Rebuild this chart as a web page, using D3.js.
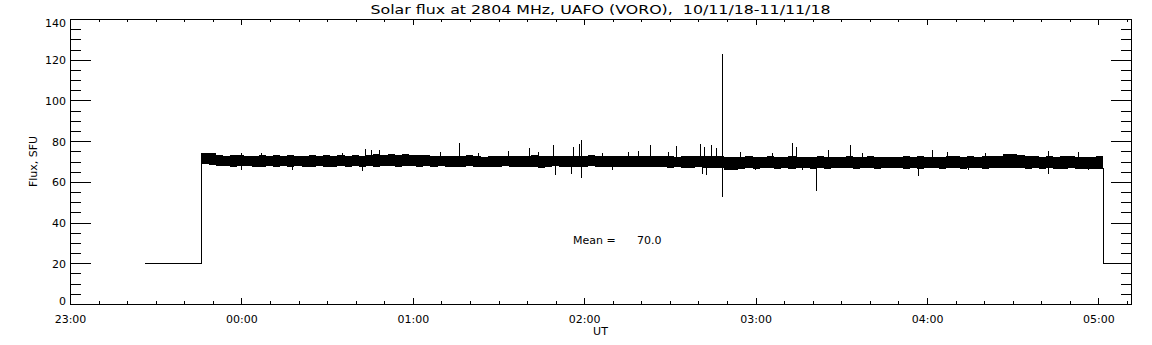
<!DOCTYPE html>
<html>
<head>
<meta charset="utf-8">
<script src="https://cdn.jsdelivr.net/npm/d3@7"></script>
<style>
  body { margin: 0; background: #fff; }
  svg { display: block; }
  text { font-family: "DejaVu Sans", sans-serif; fill: #000; }
</style>
</head>
<body>
<div id="chart"></div>
<script>
let width = 1152,
    height = 345,
    margin = { left: 70, right: 21, top: 19, bottom: 41 }

// times are minutes after 23:00 UT on 10/11/18
let t0 = Date.UTC(2018, 10, 10, 23, 0, 0)
let tEnd = 371.4

let xTickLabels = ["23:00", "00:00", "01:00", "02:00", "03:00", "04:00", "05:00"]
let xTickMinutes = [0, 60, 120, 180, 240, 300, 360]
let xMinorMinutes = [10, 20, 30, 40, 50, 70, 80, 90, 100, 110, 130, 140, 150, 160, 170,
  190, 200, 210, 220, 230, 250, 260, 270, 280, 290, 310, 320, 330, 340, 350, 370]
let yTicks = [0, 20, 40, 60, 80, 100, 120, 140]
let yMinor = [5, 10, 15, 25, 30, 35, 45, 50, 55, 65, 70, 75, 85, 90, 95, 105, 110, 115, 125, 130, 135]

// quiet level before / after the observation
let preT = [26.3, 46.0, 46.0]
let preV = [20, 20, 71]
let postT = [361.7, 361.7, 380]
let postV = [67, 20, 20]

// envelope of the noisy record, sampled evenly between bandStart and bandEnd
let bandStart = 46.0, bandEnd = 361.7
let bandHi = [74.4, 74.0,
  73.2, 72.9, 73.3, 73.0, 72.8,
  72.9, 73.2, 72.7, 73.0, 72.8, 73.3, 72.9, 72.6, 73.1, 72.9, 73.0, 72.7, 73.2, 72.8, 73.0, 72.9,
  73.4, 73.6, 73.2, 73.5, 73.3, 73.7, 73.1, 73.4, 73.2,
  72.7, 72.9, 72.5, 72.8, 72.6, 73.0, 72.7, 72.4, 72.8, 72.6, 72.9, 72.7, 72.5, 72.8, 73.0, 72.6,
  72.7, 72.9, 72.5, 72.8, 72.6, 72.7, 73.1, 72.8, 72.6, 72.9, 72.7, 72.5, 72.8, 72.6, 72.9, 72.7,
  72.6, 72.9, 72.4, 72.7, 72.8, 72.5, 72.9, 72.6, 72.8,
  72.4, 72.2,
  72.3, 72.5, 72.1, 72.4, 72.6, 72.2, 72.3, 72.5, 72.0, 72.4, 72.3, 72.6, 72.2, 72.4, 72.1, 72.5,
  72.3, 72.2, 72.6, 72.4, 72.3,
  72.4, 72.2, 72.5, 72.3, 72.6, 72.1, 72.4, 72.3, 72.7, 72.5, 72.2, 72.6, 72.4, 72.8, 72.5, 72.9,
  73.5, 73.8, 73.4, 72.9, 72.6, 72.4, 72.7, 72.3, 72.5, 72.6, 72.2, 72.4, 72.3, 72.5, 72.4]
let bandLo = [69.0, 68.5,
  67.7, 68.0, 67.5, 67.8, 67.6,
  67.5, 67.2, 67.7, 67.4, 67.6, 67.3, 67.8, 67.5, 67.4, 67.6, 67.2, 67.5, 67.7, 67.3, 67.6, 67.4,
  67.7, 67.5, 67.9, 67.6, 67.4, 67.8, 67.6, 67.5, 67.7,
  67.4, 67.6, 67.2, 67.5, 67.3, 67.6, 67.4, 67.1, 67.5, 67.3, 67.6, 67.4, 67.2, 67.5, 67.3, 67.0,
  67.4, 67.6, 67.3, 67.5, 67.2, 67.4, 67.6, 67.3, 67.1, 67.4, 67.2, 67.5, 67.3, 67.4, 67.2, 67.5,
  67.1, 66.9, 67.2, 67.0, 66.8, 67.1, 66.9, 67.0, 66.7,
  65.8, 66.0,
  66.4, 66.7, 66.5, 66.8, 66.6, 66.4, 66.7, 66.5, 66.9, 66.6, 66.4, 66.7, 66.5, 66.8, 66.6, 66.7,
  66.4, 66.6, 66.8, 66.5, 66.7,
  66.6, 66.8, 66.5, 66.7, 66.4, 66.6, 66.9, 66.5, 66.7, 66.6, 66.4, 66.8, 66.6, 66.5, 66.7, 66.9,
  67.0, 66.8, 66.6, 66.5, 66.7, 66.4, 66.6, 66.5, 66.3, 66.6, 66.4, 66.2, 66.3, 66.1, 66.0]

// bursts and dips sticking out of the band
let spikeT = [59.8, 67.0, 77.6, 95.1, 102.2, 103.4, 105.5, 108.0, 129.5, 136.1, 142.8, 153.3,
  160.8, 163.8, 169.0, 169.6, 175.4, 176.2, 178.1, 178.9, 186.1, 189.6, 195.5, 198.8, 203.1,
  209.3, 212.0, 220.6, 221.4, 222.0, 222.6, 224.4, 226.1, 228.4, 234.5, 239.8, 245.6, 252.6,
  254.1, 256.1, 261.0, 265.3, 273.1, 277.1, 297.0, 301.9, 306.9, 314.4, 320.3, 342.3, 342.5,
  353.0, 356.5]
let spikeTop = [74.2, 74.0, 70, 74.0, 70, 76.0, 75.5, 75.5, 74.5, 79.3, 74.4, 75.2,
  76.4, 74.7, 78.0, 70, 70, 77.2, 78.5, 80.8, 74.2, 70, 74.7, 75.0, 78.0,
  74.5, 77.6, 78.8, 70, 77.2, 70, 78.0, 76.4, 123.0, 74.7, 70, 74.2, 79.0,
  77.2, 70, 70, 75.6, 78.0, 74.4, 70, 75.5, 74.5, 70, 74.3, 70, 75.0,
  74.6, 70]
let spikeBottom = [65.7, 70, 66.0, 70, 65.5, 70, 70, 70, 70, 70, 70, 70,
  70, 70, 70, 63.6, 64.1, 70, 70, 62.1, 70, 65.9, 70, 70, 70,
  70, 70, 70, 64.1, 70, 63.3, 70, 70, 52.7, 70, 66.0, 70, 70,
  70, 65.6, 55.6, 70, 70, 70, 63.0, 70, 70, 65.8, 70, 63.8, 70,
  70, 65.7]

let titleText = "Solar flux at 2804 MHz, UAFO (VORO),  10/11/18-11/11/18"
let meanValue = 70.0

let toDate = m => new Date(t0 + m * 60000)

let svg = d3.select("#chart").append("svg")
  .attr("width", width)
  .attr("height", height)

let x = d3.scaleUtc()
  .domain([toDate(0), toDate(tEnd)])
  .range([margin.left, width - margin.right])

let y = d3.scaleLinear()
  .domain([0, 140])
  .range([height - margin.bottom, margin.top])

// clip so the trailing level stops at the frame
svg.append("clipPath").attr("id", "plot")
  .append("rect")
  .attr("x", x.range()[0]).attr("y", y.range()[1])
  .attr("width", x.range()[1] - x.range()[0])
  .attr("height", y.range()[0] - y.range()[1])

let plot = svg.append("g")
  .attr("clip-path", "url(#plot)")
  .attr("shape-rendering", "crispEdges")

let step = (bandEnd - bandStart) / (bandHi.length - 1)
let band = bandHi.map((h, i) => ({ t: bandStart + i * step, hi: h, lo: bandLo[i] }))

let area = d3.area()
  .curve(d3.curveStepAfter)
  .x(d => x(toDate(d.t)))
  .y0(d => y(d.lo))
  .y1(d => y(d.hi))

plot.append("path")
  .datum(band)
  .attr("d", area)
  .attr("fill", "#000")

let line = d3.line()
  .x(d => x(toDate(d[0])))
  .y(d => y(d[1]))

plot.selectAll(".level")
  .data([d3.zip(preT, preV), d3.zip(postT, postV)])
  .enter().append("path")
  .attr("class", "level")
  .attr("d", line)
  .attr("fill", "none")
  .attr("stroke", "#000")

plot.selectAll(".spike")
  .data(spikeT.map((t, i) => ({ t: t, top: spikeTop[i], bottom: spikeBottom[i] })))
  .enter().append("line")
  .attr("class", "spike")
  .attr("x1", d => Math.round(x(toDate(d.t))) + 0.5)
  .attr("x2", d => Math.round(x(toDate(d.t))) + 0.5)
  .attr("y1", d => y(d.top))
  .attr("y2", d => y(d.bottom))
  .attr("stroke", "#000")

// axes: ticks point into the plot on all four sides
let majorDates = xTickMinutes.map(toDate)
let minorDates = xMinorMinutes.map(toDate)

function addAxis(axis, tx, ty, cls) {
  let g = svg.append("g")
    .attr("class", cls)
    .attr("transform", "translate(" + tx + "," + ty + ")")
    .call(axis)
  g.select(".domain").remove()
  g.selectAll("line").attr("stroke", "#000").attr("shape-rendering", "crispEdges")
  g.selectAll("text").attr("font-size", 11).style("font-family", '"DejaVu Sans", sans-serif')
  return g
}

let bottomY = y.range()[0], topY = y.range()[1]
let leftX = x.range()[0], rightX = x.range()[1]

addAxis(d3.axisBottom(x).tickValues(majorDates)
  .tickFormat((d, i) => xTickLabels[i]).tickSizeInner(-6).tickSizeOuter(0).tickPadding(11),
  0, bottomY, "x-bottom")
addAxis(d3.axisBottom(x).tickValues(minorDates).tickFormat("").tickSizeInner(-3).tickSizeOuter(0),
  0, bottomY, "x-bottom-minor")
addAxis(d3.axisTop(x).tickValues(majorDates).tickFormat("").tickSizeInner(-6).tickSizeOuter(0),
  0, topY, "x-top")
addAxis(d3.axisTop(x).tickValues(minorDates).tickFormat("").tickSizeInner(-3).tickSizeOuter(0),
  0, topY, "x-top-minor")

let yl = addAxis(d3.axisLeft(y).tickValues(yTicks).tickFormat(d3.format("d"))
  .tickSizeInner(-21).tickSizeOuter(0).tickPadding(4), leftX, 0, "y-left")
addAxis(d3.axisLeft(y).tickValues(yMinor).tickFormat("").tickSizeInner(-11).tickSizeOuter(0),
  leftX, 0, "y-left-minor")
addAxis(d3.axisRight(y).tickValues(yTicks).tickFormat("").tickSizeInner(-20).tickSizeOuter(0),
  rightX, 0, "y-right")
addAxis(d3.axisRight(y).tickValues(yMinor).tickFormat("").tickSizeInner(-10).tickSizeOuter(0),
  rightX, 0, "y-right-minor")

// end labels are kept inside the axis span
yl.selectAll("text")
  .attr("dy", d => d === 0 ? "0" : d === 140 ? "0.72em" : "0.36em")

// frame
svg.append("rect")
  .attr("x", leftX + 0.5).attr("y", topY + 0.5)
  .attr("width", rightX - leftX).attr("height", bottomY - topY)
  .attr("fill", "none")
  .attr("stroke", "#000")
  .attr("shape-rendering", "crispEdges")

svg.append("text")
  .attr("x", (leftX + rightX) / 2)
  .attr("y", 14)
  .attr("text-anchor", "middle")
  .attr("font-size", 13)
  .attr("textLength", 460)
  .attr("lengthAdjust", "spacingAndGlyphs")
  .style("white-space", "pre")
  .text(titleText)

svg.append("text")
  .attr("x", (leftX + rightX) / 2)
  .attr("y", 335)
  .attr("text-anchor", "middle")
  .attr("font-size", 11)
  .text("UT")

svg.append("text")
  .attr("transform", "translate(37," + (topY + bottomY) / 2 + ") rotate(-90)")
  .attr("text-anchor", "middle")
  .attr("font-size", 11)
  .text("Flux, SFU")

svg.append("text")
  .attr("x", 573)
  .attr("y", 244)
  .attr("font-size", 11)
  .text("Mean =")

svg.append("text")
  .attr("x", 637)
  .attr("y", 244)
  .attr("font-size", 11)
  .text(d3.format(".1f")(meanValue))
</script>
</body>
</html>
